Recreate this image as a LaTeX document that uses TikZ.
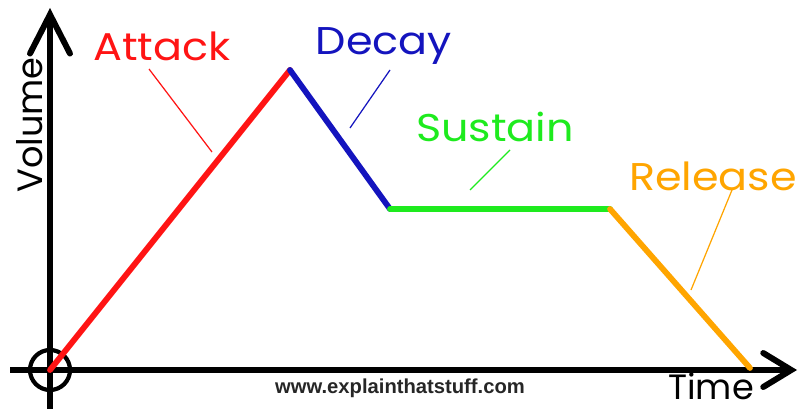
\documentclass[tikz,border=0pt]{standalone}
\usepackage{fontspec}
\setmainfont{Poppins}
\newfontfamily\widefont{Poppins}[FakeStretch=1.11]
\newfontfamily\urlfont{Liberation Sans}
\usetikzlibrary{arrows.meta}

\definecolor{atkred}{RGB}{255,20,20}
\definecolor{decblue}{RGB}{20,20,190}
\definecolor{susgreen}{RGB}{30,235,30}
\definecolor{relorange}{RGB}{255,165,0}

\begin{document}
\begin{tikzpicture}[
    x=0.02cm, y=-0.02cm,
    axis/.style={line width=3.4pt, black},
    phase/.style={line width=3.3pt, line cap=round},
    leader/.style={line width=0.7pt},
    lbl/.style={font=\widefont\fontsize{22}{24}\selectfont, inner sep=0pt},
    axlbl/.style={font=\fontsize{20}{22}\selectfont, inner sep=0pt}
  ]
  \useasboundingbox[fill=white] (0,0) rectangle (799,409);

  % --- Axes ---
  \coordinate (o) at (50,370);
  \coordinate (ybot) at (50,409);
  \coordinate (ytop) at (50,8);
  \coordinate (xleft) at (10,370);
  \coordinate (xright) at (797,370);
  \draw[axis, -{Straight Barb[length=0.78cm, width=0.8cm, line cap=round]}] (ybot) -- (ytop);
  \draw[axis, -{Straight Barb[length=0.56cm, width=0.68cm, line cap=round]}] (xleft) -- (xright);
  \node[circle, draw, line width=2.4pt, minimum size=0.8cm, inner sep=0pt] (orig) at (o) {};

  \node[axlbl, rotate=90] (volume) at (30,125) {Volume};
  \node[axlbl] (time) at (711,386) {Time};
  \node[font=\urlfont\bfseries\fontsize{11.5}{13}\selectfont, text=black!85, inner sep=0pt] (url) at (400,388) {www.explainthatstuff.com};

  % --- Envelope ---
  \coordinate (peak) at (290,70);
  \coordinate (sus1) at (390,209);
  \coordinate (sus2) at (610,209);
  \coordinate (stop) at (750,368);

  \draw[phase, atkred] (o) -- (peak);
  \draw[phase, decblue] (peak) -- (sus1);
  \draw[phase, susgreen] (sus1) -- (sus2);
  \draw[phase, relorange] (sus2) -- (stop);

  % --- Labels with leader lines ---
  \node[lbl, text=atkred] (attack) at (162,46) {Attack};
  \node[lbl, text=decblue] (decay) at (384,46) {Decay};
  \node[lbl, text=susgreen] (sustain) at (495,127) {Sustain};
  \node[lbl, text=relorange] (release) at (713,176) {Release};

  \coordinate (atk-a) at (149,69);  \coordinate (atk-b) at (212,152);
  \coordinate (dec-a) at (390,70);  \coordinate (dec-b) at (350,128);
  \coordinate (sus-a) at (510,150); \coordinate (sus-b) at (470,190);
  \coordinate (rel-a) at (732,190); \coordinate (rel-b) at (691,290);

  \draw[leader, atkred] (atk-a) -- (atk-b);
  \draw[leader, decblue] (dec-a) -- (dec-b);
  \draw[leader, susgreen] (sus-a) -- (sus-b);
  \draw[leader, relorange] (rel-a) -- (rel-b);
\end{tikzpicture}
\end{document}
